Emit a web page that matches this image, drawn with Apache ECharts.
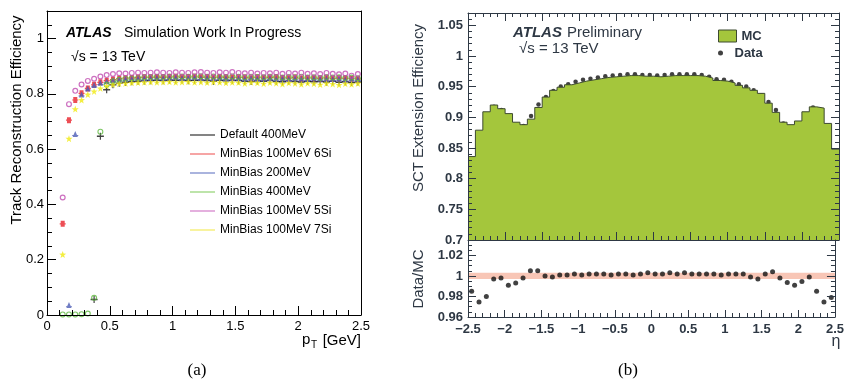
<!DOCTYPE html>
<html>
<head>
<meta charset="utf-8">
<script src="https://cdn.jsdelivr.net/npm/echarts@6/dist/echarts.min.js"></script>
<style>
  html, body { margin: 0; padding: 0; background: #fff; }
  #chart { width: 847px; height: 384px; }
</style>
</head>
<body>
<div id="chart"></div>
<script>
// (a) track reconstruction efficiency vs pT, one value per 50 MeV bin
const ptBins = [0.125, 0.175, 0.225, 0.275, 0.325, 0.375, 0.425, 0.475, 0.525, 0.575,
  0.625, 0.675, 0.725, 0.775, 0.825, 0.875, 0.925, 0.975, 1.025, 1.075,
  1.125, 1.175, 1.225, 1.275, 1.325, 1.375, 1.425, 1.475, 1.525, 1.575,
  1.625, 1.675, 1.725, 1.775, 1.825, 1.875, 1.925, 1.975, 2.025, 2.075,
  2.125, 2.175, 2.225, 2.275, 2.325, 2.375, 2.425, 2.475];

const effDefault400 = [null, null, null, null, null, 0.056, 0.647, 0.815, 0.833, 0.839,
  0.842, 0.844, 0.846, 0.847, 0.848, 0.849, 0.848, 0.850, 0.849, 0.850,
  0.848, 0.849, 0.850, 0.848, 0.846, 0.849, 0.847, 0.849, 0.848, 0.846,
  0.845, 0.847, 0.846, 0.848, 0.845, 0.844, 0.847, 0.845, 0.843, 0.846,
  0.844, 0.845, 0.843, 0.846, 0.842, 0.844, 0.841, 0.843];
const effMinBias100_6Si = [0.330, 0.705, 0.778, 0.802, 0.820, 0.833, 0.842, 0.848, 0.852, 0.855,
  0.857, 0.858, 0.859, 0.860, 0.860, 0.861, 0.860, 0.861, 0.862, 0.860,
  0.861, 0.862, 0.860, 0.861, 0.859, 0.861, 0.860, 0.858, 0.860, 0.859,
  0.857, 0.860, 0.858, 0.859, 0.861, 0.858, 0.857, 0.859, 0.856, 0.858,
  0.857, 0.856, 0.858, 0.855, 0.857, 0.856, 0.855, 0.854];
const effMinBias200 = [null, 0.036, 0.655, 0.798, 0.820, 0.832, 0.840, 0.846, 0.850, 0.853,
  0.855, 0.856, 0.857, 0.858, 0.858, 0.859, 0.858, 0.859, 0.860, 0.858,
  0.859, 0.860, 0.858, 0.859, 0.857, 0.859, 0.858, 0.857, 0.858, 0.856,
  0.858, 0.857, 0.856, 0.858, 0.856, 0.857, 0.855, 0.857, 0.856, 0.854,
  0.857, 0.855, 0.856, 0.854, 0.856, 0.853, 0.855, 0.854];
const effMinBias400 = [0.002, 0.002, 0.002, 0.003, 0.005, 0.062, 0.663, 0.833, 0.846, 0.851,
  0.855, 0.857, 0.858, 0.860, 0.861, 0.862, 0.861, 0.863, 0.862, 0.863,
  0.862, 0.863, 0.864, 0.862, 0.863, 0.862, 0.861, 0.863, 0.862, 0.860,
  0.862, 0.861, 0.860, 0.862, 0.861, 0.859, 0.861, 0.860, 0.862, 0.859,
  0.860, 0.858, 0.861, 0.859, 0.860, 0.858, 0.859, 0.857];
const effMinBias100_5Si = [0.425, 0.763, 0.811, 0.834, 0.847, 0.855, 0.863, 0.868, 0.872, 0.875,
  0.874, 0.876, 0.877, 0.876, 0.877, 0.878, 0.877, 0.876, 0.878, 0.877,
  0.876, 0.878, 0.879, 0.877, 0.876, 0.878, 0.877, 0.879, 0.876, 0.875,
  0.877, 0.874, 0.876, 0.875, 0.877, 0.873, 0.876, 0.874, 0.877, 0.873,
  0.875, 0.872, 0.876, 0.873, 0.871, 0.874, 0.866, 0.872];
const effMinBias100_7Si = [0.219, 0.638, 0.745, 0.778, 0.798, 0.809, 0.820, 0.829, 0.834, 0.837,
  0.838, 0.840, 0.841, 0.842, 0.843, 0.842, 0.843, 0.844, 0.842, 0.843,
  0.844, 0.842, 0.843, 0.841, 0.843, 0.842, 0.840, 0.842, 0.841, 0.838,
  0.842, 0.840, 0.837, 0.841, 0.839, 0.836, 0.840, 0.838, 0.835, 0.839,
  0.837, 0.834, 0.838, 0.836, 0.833, 0.837, 0.835, 0.838];

// (b) SCT extension efficiency vs eta, bins of 0.1
const etaLowEdges = [-2.5, -2.4, -2.3, -2.2, -2.1, -2.0, -1.9, -1.8, -1.7, -1.6,
  -1.5, -1.4, -1.3, -1.2, -1.1, -1.0, -0.9, -0.8, -0.7, -0.6,
  -0.5, -0.4, -0.3, -0.2, -0.1, 0.0, 0.1, 0.2, 0.3, 0.4,
  0.5, 0.6, 0.7, 0.8, 0.9, 1.0, 1.1, 1.2, 1.3, 1.4,
  1.5, 1.6, 1.7, 1.8, 1.9, 2.0, 2.1, 2.2, 2.3, 2.4];
const etaMax = 2.5;
const etaHalfBin = 0.05;

const mcEff = [0.836, 0.879, 0.909, 0.920, 0.914, 0.906, 0.892, 0.888, 0.897, 0.916,
  0.933, 0.944, 0.949, 0.953, 0.956, 0.959, 0.961, 0.963, 0.965, 0.966,
  0.967, 0.968, 0.968, 0.967, 0.967, 0.966, 0.967, 0.968, 0.968, 0.968,
  0.968, 0.967, 0.964, 0.960, 0.959, 0.956, 0.952, 0.948, 0.944, 0.939,
  0.923, 0.908, 0.892, 0.888, 0.894, 0.909, 0.917, 0.915, 0.890, 0.848];
const dataEff = [0.823, 0.857, 0.891, 0.917, 0.912, 0.898, 0.886, 0.886, 0.902, 0.921,
  0.933, 0.943, 0.950, 0.954, 0.958, 0.961, 0.963, 0.965, 0.967, 0.968,
  0.969, 0.970, 0.970, 0.969, 0.969, 0.968, 0.969, 0.970, 0.970, 0.970,
  0.970, 0.969, 0.966, 0.962, 0.961, 0.958, 0.954, 0.950, 0.944, 0.936,
  0.925, 0.912, 0.890, 0.882, 0.886, 0.904, 0.916, 0.901, 0.867, 0.830];
const dataOverMc = [0.985, 0.9745, 0.980, 0.997, 0.998, 0.991, 0.993, 0.998, 1.005, 1.005,
  1.000, 0.999, 1.001, 1.001, 1.002, 1.001, 1.002, 1.002, 1.002, 1.001,
  1.002, 1.002, 1.001, 1.002, 1.003, 1.002, 1.002, 1.003, 1.002, 1.003,
  1.002, 1.002, 1.002, 1.002, 1.001, 1.002, 1.002, 1.002, 0.999, 0.997,
  1.002, 1.004, 0.998, 0.9935, 0.991, 0.9945, 0.999, 0.985, 0.9745, 0.979];

// tick spacing (major label step, minor step) per axis
const ptTickStep = [0.5, 0.1];
const effTickStep = [0.2, 0.05];
const etaTickStep = [0.5, 0.1];
const sctTickStep = [0.05, 0.01];
const ratioTickStep = [0.02, 0.005];

const FONT = "Liberation Sans";
const INK_B = "#2e3844";
const GREEN = "#a4c63c";

// axis that only draws ticks (and optionally its line / labels)
function axis(base, o) {
  return Object.assign({
    type: "value",
    z: 10,
    interval: o.step,
    axisLine: { show: !!o.line, onZero: false, lineStyle: { color: o.color, width: 1 } },
    axisTick: { show: o.len > 0, inside: true, length: o.len, lineStyle: { color: o.color, width: 1 } },
    axisLabel: o.label ? Object.assign({ fontFamily: FONT, color: o.color }, o.label) : { show: false },
    splitLine: { show: false },
  }, base);
}

// label only values that sit on the major step (hides the extent end)
function onStep(step, map) {
  return (v) => {
    const k = v / step;
    if (Math.abs(k - Math.round(k)) > 1e-6) return "";
    const s = String(+v.toFixed(3));
    return map ? map(s) : s;
  };
}

const boldLabel = { fontSize: 13, fontWeight: "bold" };
const minus = (s) => s.replace("-", "\u2212");

const effSeries = [
  { name: "Default 400MeV", values: effDefault400, color: "#111", legend: "#333",
    symbol: "path://M0,2.5H6V3.5H0Z M2.5,0.5H3.5V5.5H2.5Z", size: 7 },
  { name: "MinBias 100MeV 6Si", values: effMinBias100_6Si, color: "#e8222a", legend: "#f06a6a",
    symbol: "path://M1,1H5V5H1Z M0,2.6H6V3.4H0Z", size: 6 },
  { name: "MinBias 200MeV", values: effMinBias200, color: "#4c5db5", legend: "#7282c8",
    symbol: "path://M3,0.5L5.6,5H0.4Z M0,3.6H6V4.3H0Z", size: 6 },
  { name: "MinBias 400MeV", values: effMinBias400, color: "#5cb83c", legend: "#92d272",
    symbol: "path://M3,0A3,3 0 1,1 3,6A3,3 0 1,1 3,0Z M3,1.1A1.9,1.9 0 1,0 3,4.9A1.9,1.9 0 1,0 3,1.1Z", size: 6 },
  { name: "MinBias 100MeV 5Si", values: effMinBias100_5Si, color: "#c04cb0", legend: "#d27cc8",
    symbol: "path://M3,0A3,3 0 1,1 3,6A3,3 0 1,1 3,0Z M3,1.2A1.8,1.8 0 1,0 3,4.8A1.8,1.8 0 1,0 3,1.2Z", size: 6 },
  { name: "MinBias 100MeV 7Si", values: effMinBias100_7Si, color: "#f0ea10", legend: "#f4ec60",
    symbol: "path://M10,0L12.35,6.76L19.51,6.91L13.8,11.24L15.88,18.09L10,14L4.12,18.09L6.2,11.24L0.49,6.91L7.65,6.76Z", size: 7 },
];

const pA = { gridIndex: 0, min: 0, max: 2.5 };
const pAy = { gridIndex: 0, min: 0, max: 1.1 };
const pBx = { gridIndex: 1, min: -2.5, max: 2.5 };
const pBy = { gridIndex: 1, min: 0.7, max: 1.07 };
const pCx = { gridIndex: 2, min: -2.5, max: 2.5 };
const pCy = { gridIndex: 2, min: 0.96, max: 1.035 };
const at = (o, position) => Object.assign({ position }, o);

const chart = echarts.init(document.getElementById("chart"), null, { renderer: "canvas" });

chart.setOption({
  animation: false,
  backgroundColor: "#fff",
  grid: [
    { left: 47, top: 11, width: 314, height: 304 },
    { left: 468, top: 13, width: 371, height: 227 },
    { left: 468, top: 240, width: 371, height: 77 },
  ],
  xAxis: [
    // panel (a): index 0..2
    axis(at(pA, "bottom"), { step: ptTickStep[0], len: 9, line: true, color: "#000",
      label: { fontSize: 13, margin: 5, formatter: onStep(ptTickStep[0]) } }),
    axis(at(pA, "bottom"), { step: ptTickStep[1], len: 5, color: "#000" }),
    axis(at(pA, "top"), { step: ptTickStep[0], len: 0, line: true, color: "#000" }),
    // panel (b) main: index 3..6
    axis(at(pBx, "bottom"), { step: etaTickStep[0], len: 8, line: true, color: INK_B }),
    axis(at(pBx, "bottom"), { step: etaTickStep[1], len: 4, color: INK_B }),
    axis(at(pBx, "top"), { step: etaTickStep[0], len: 8, line: true, color: INK_B }),
    axis(at(pBx, "top"), { step: etaTickStep[1], len: 4, color: INK_B }),
    // panel (b) ratio: index 7..8
    axis(at(pCx, "bottom"), { step: etaTickStep[0], len: 7, line: true, color: INK_B,
      label: Object.assign({ margin: 6, formatter: onStep(etaTickStep[0], minus) }, boldLabel) }),
    axis(at(pCx, "bottom"), { step: etaTickStep[1], len: 4, color: INK_B }),
  ],
  yAxis: [
    // panel (a): index 0..2
    axis(at(pAy, "left"), { step: effTickStep[0], len: 9, line: true, color: "#000",
      label: { fontSize: 13, margin: 3, formatter: onStep(effTickStep[0]) } }),
    axis(at(pAy, "left"), { step: effTickStep[1], len: 5, color: "#000" }),
    axis(at(pAy, "right"), { step: effTickStep[0], len: 0, line: true, color: "#000" }),
    // panel (b) main: index 3..6
    axis(at(pBy, "left"), { step: sctTickStep[0], len: 8, line: true, color: INK_B,
      label: Object.assign({ margin: 5, formatter: onStep(sctTickStep[0]) }, boldLabel) }),
    axis(at(pBy, "left"), { step: sctTickStep[1], len: 4, color: INK_B }),
    axis(at(pBy, "right"), { step: sctTickStep[0], len: 8, line: true, color: INK_B }),
    axis(at(pBy, "right"), { step: sctTickStep[1], len: 4, color: INK_B }),
    // panel (b) ratio: index 7..10
    axis(at(pCy, "left"), { step: ratioTickStep[0], len: 8, line: true, color: INK_B,
      label: Object.assign({ margin: 5, formatter: onStep(ratioTickStep[0]) }, boldLabel) }),
    axis(at(pCy, "left"), { step: ratioTickStep[1], len: 4, color: INK_B }),
    axis(at(pCy, "right"), { step: ratioTickStep[0], len: 8, line: true, color: INK_B }),
    axis(at(pCy, "right"), { step: ratioTickStep[1], len: 4, color: INK_B }),
  ],
  legend: [
    {
      left: 190, top: 128, padding: 0, orient: "vertical", icon: "rect",
      itemWidth: 25, itemHeight: 1.5, itemGap: 5,
      textStyle: { fontFamily: FONT, fontSize: 12, lineHeight: 14, color: "#000" },
      data: effSeries.map((s) => ({ name: s.name, itemStyle: { color: s.legend, borderWidth: 0 } })),
    },
    {
      left: 718, top: 29, padding: 0, icon: "rect", itemWidth: 18, itemHeight: 12,
      textStyle: { fontFamily: FONT, fontSize: 13, lineHeight: 14, fontWeight: "bold", color: INK_B },
      data: [{ name: "MC", itemStyle: { color: GREEN, borderColor: "#3d4a30", borderWidth: 1 } }],
    },
    {
      left: 718, top: 46, padding: 0, icon: "circle", itemWidth: 18, itemHeight: 5,
      textStyle: { fontFamily: FONT, fontSize: 13, lineHeight: 14, fontWeight: "bold", color: INK_B },
      data: [{ name: "Data", itemStyle: { color: "#111" } }],
    },
  ],
  series: effSeries.map((s) => ({
    name: s.name,
    type: "scatter",
    xAxisIndex: 0,
    yAxisIndex: 0,
    symbol: s.symbol,
    symbolSize: s.size,
    itemStyle: { color: s.color },
    data: ptBins.map((x, i) => [x, s.values[i]]).filter((p) => p[1] !== null),
  })).concat([
    {
      name: "MC",
      type: "line",
      xAxisIndex: 3,
      yAxisIndex: 3,
      step: "end",
      symbol: "none",
      lineStyle: { color: "#3d4a30", width: 1 },
      itemStyle: { color: GREEN },
      areaStyle: { color: GREEN, opacity: 1, origin: "start" },
      data: etaLowEdges.map((e, i) => [e, mcEff[i]]).concat([[etaMax, mcEff[mcEff.length - 1]]]),
    },
    {
      name: "Data",
      type: "scatter",
      xAxisIndex: 3,
      yAxisIndex: 3,
      symbol: "circle",
      symbolSize: 4.5,
      itemStyle: { color: "#111" },
      data: etaLowEdges.map((e, i) => [e + etaHalfBin, dataEff[i]]),
    },
    {
      name: "Data/MC",
      type: "scatter",
      xAxisIndex: 7,
      yAxisIndex: 7,
      symbol: "circle",
      symbolSize: 5,
      itemStyle: { color: "#111" },
      markArea: {
        silent: true,
        itemStyle: { color: "#f8c6b6" },
        data: [[{ xAxis: -2.5, yAxis: 0.997 }, { xAxis: 2.5, yAxis: 1.003 }]],
      },
      data: etaLowEdges.map((e, i) => [e + etaHalfBin, dataOverMc[i]]),
    },
  ]),
  graphic: [
    // panel (a) texts
    { type: "text", x: 66, y: 33, style: { text: "ATLAS", font: "italic bold 14px " + FONT, fill: "#000", textVerticalAlign: "middle" } },
    { type: "text", x: 124, y: 33, style: { text: "Simulation Work In Progress", font: "14px " + FONT, fill: "#000", textVerticalAlign: "middle" } },
    { type: "text", x: 71, y: 57, style: { text: "\u221As = 13 TeV", font: "14px " + FONT, fill: "#000", textVerticalAlign: "middle" } },
    { type: "text", x: 17, y: 120, rotation: Math.PI / 2, style: { text: "Track Reconstruction Efficiency", font: "15px " + FONT, fill: "#000", textAlign: "center", textVerticalAlign: "middle" } },
    { type: "text", x: 361, y: 341, style: { text: "[GeV]", font: "15px " + FONT, fill: "#000", textAlign: "right", textVerticalAlign: "middle" } },
    { type: "text", x: 311, y: 345, style: { text: "T", font: "10px " + FONT, fill: "#000", textVerticalAlign: "middle" } },
    { type: "text", x: 302, y: 340, style: { text: "p", font: "15px " + FONT, fill: "#000", textVerticalAlign: "middle" } },
    { type: "text", x: 197, y: 371, style: { text: "(a)", font: "17px 'Liberation Serif'", fill: "#000", textAlign: "center", textVerticalAlign: "middle" } },
    // panel (b) texts
    { type: "text", x: 513, y: 33, style: { text: "ATLAS", font: "italic bold 15px " + FONT, fill: INK_B, textVerticalAlign: "middle" } },
    { type: "text", x: 567, y: 33, style: { text: "Preliminary", font: "15px " + FONT, fill: INK_B, textVerticalAlign: "middle" } },
    { type: "text", x: 519, y: 49, style: { text: "\u221As = 13 TeV", font: "15px " + FONT, fill: INK_B, textVerticalAlign: "middle" } },
    { type: "text", x: 419, y: 108, rotation: Math.PI / 2, style: { text: "SCT Extension Efficiency", font: "15px " + FONT, fill: INK_B, textAlign: "center", textVerticalAlign: "middle" } },
    { type: "text", x: 419, y: 279, rotation: Math.PI / 2, style: { text: "Data/MC", font: "15px " + FONT, fill: INK_B, textAlign: "center", textVerticalAlign: "middle" } },
    { type: "text", x: 836, y: 342, style: { text: "\u03B7", font: "16px " + FONT, fill: INK_B, textAlign: "center", textVerticalAlign: "middle" } },
    { type: "text", x: 628, y: 371, style: { text: "(b)", font: "17px 'Liberation Serif'", fill: "#000", textAlign: "center", textVerticalAlign: "middle" } },
  ],
});
</script>
</body>
</html>
